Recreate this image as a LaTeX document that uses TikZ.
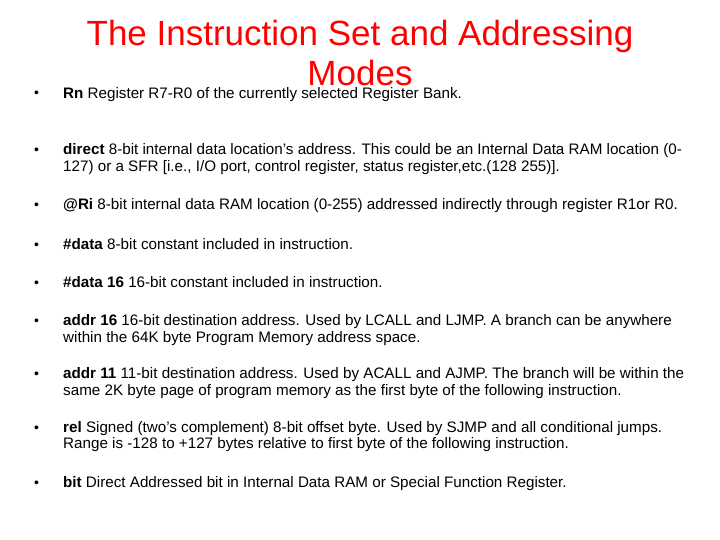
\documentclass[tikz,border=0pt]{standalone}
\usepackage{fontspec}
\setmainfont{Liberation Sans}
\begin{document}
\begin{tikzpicture}[x=1pt,y=-1pt,
  ttl/.style={anchor=base,text=red,font=\fontsize{35}{36}\selectfont,inner sep=0pt},
  bul/.style={anchor=base west,font=\fontsize{14}{14}\selectfont,inner sep=0pt},
  txt/.style={anchor=base west,font=\fontsize{15.2}{15}\selectfont,inner sep=0pt}]
\useasboundingbox[fill=white] (0,0) rectangle (720,540);
\node[ttl] (t1) at (360,46) {The Instruction Set and Addressing};
\node[ttl] (t2) at (360,86) {Modes};
\foreach \n/\y in {1/98,2/155,3/210,4/249,5/287,6/325,7/378,8/432,9/487}
  \node[bul] (b\n) at (34,\y) {•};
\node[txt] (l1) at (63,99) {\textbf{Rn} Register R7-R0 of the currently selected Register Bank.};
\node[txt] (l2a) at (63,155) {\textbf{direct} 8-bit internal data location’s address. This could be an Internal Data RAM location (0-};
\node[txt] (l2b) at (63,172) {127) or a SFR [i.e., I/O port, control register, status register,etc.(128 255)].};
\node[txt] (l3) at (63,210) {\textbf{@Ri} 8-bit internal data RAM location (0-255) addressed indirectly through register R1or R0.};
\node[txt] (l4) at (63,249) {\textbf{\#data} 8-bit constant included in instruction.};
\node[txt] (l5) at (63,287) {\textbf{\#data 16} 16-bit constant included in instruction.};
\node[txt] (l6a) at (63,325) {\textbf{addr 16} 16-bit destination address. Used by LCALL and LJMP. A branch can be anywhere};
\node[txt] (l6b) at (63,342) {within the 64K byte Program Memory address space.};
\node[txt] (l7a) at (63,378) {\textbf{addr 11} 11-bit destination address. Used by ACALL and AJMP. The branch will be within the};
\node[txt] (l7b) at (63,395) {same 2K byte page of program memory as the first byte of the following instruction.};
\node[txt] (l8a) at (63,432) {\textbf{rel} Signed (two’s complement) 8-bit offset byte. Used by SJMP and all conditional jumps.};
\node[txt] (l8b) at (63,448) {Range is -128 to +127 bytes relative to first byte of the following instruction.};
\node[txt] (l9) at (63,487) {\textbf{bit} Direct Addressed bit in Internal Data RAM or Special Function Register.};
\end{tikzpicture}
\end{document}
